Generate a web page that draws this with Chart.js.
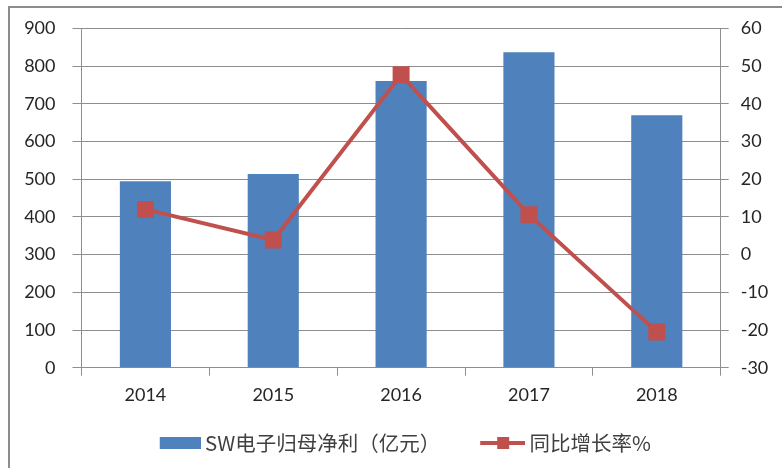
<!DOCTYPE html>
<html>
<head>
<meta charset="utf-8">
<script src="https://cdn.jsdelivr.net/npm/chart.js@4"></script>
<style>
  html, body { margin: 0; background: #fff; overflow: hidden; }
  #frame { position: absolute; left: 8px; top: 6px; width: 820px; height: 520px; border: 2px solid #8c8c8c; }
  #wrap { position: absolute; left: 0; top: 0; width: 782px; height: 468px; }
</style>
</head>
<body>
<div id="frame"></div>
<div id="wrap"><canvas id="chart"></canvas></div>
<script>
var years = ['2014', '2015', '2016', '2017', '2018'];
var profit = [495, 514, 761, 837, 670];
var growth = [12.0, 3.9, 47.7, 10.6, -20.5];
var profitName = 'SW电子归母净利（亿元）';
var growthName = '同比增长率%';

var blue = '#4f81bd';
var red = '#c0504d';
var axisGray = '#8e8e8e';
var tickFont = { family: 'Lato', size: 18 };

// legend icons, drawn on the right side of a wider canvas so they sit next to the text
function barIcon() {
    var c = document.createElement('canvas');
    c.width = 66; c.height = 12;
    var g = c.getContext('2d');
    g.fillStyle = blue;
    g.fillRect(25, 0, 41, 12);
    return c;
}
function lineIcon() {
    var c = document.createElement('canvas');
    c.width = 66; c.height = 14;
    var g = c.getContext('2d');
    g.fillStyle = red;
    g.fillRect(21, 5, 45, 4);
    g.fillRect(38, 1, 12, 12);
    return c;
}

// keep the legend short so it sits close under the x labels
const legendHeight = {
    id: 'legendHeight',
    beforeInit: function (chart) {
        var fit = chart.legend.fit;
        chart.legend.fit = function () {
            fit.call(this);
            this.height = 60.3;
        };
    }
};

var ctx = document.getElementById('chart').getContext('2d');

const chart = new Chart(ctx, {
    type: 'bar',
    data: {
        labels: years,
        datasets: [{
            type: 'line',
            label: growthName,
            data: growth,
            yAxisID: 'y1',
            borderColor: red,
            borderWidth: 4,
            backgroundColor: red,
            pointStyle: 'rect',
            pointRadius: 12,
            pointBorderWidth: 0,
            pointBackgroundColor: red,
            tension: 0
        }, {
            label: profitName,
            data: profit,
            yAxisID: 'y',
            backgroundColor: blue,
            barPercentage: 0.4,
            categoryPercentage: 1
        }]
    },
    options: {
        responsive: true,
        maintainAspectRatio: false,
        animation: false,
        layout: { padding: { left: 10, right: 0.5, top: 28.5, bottom: 0 } },
        plugins: {
            tooltip: { enabled: false },
            legend: {
                position: 'bottom',
                labels: {
                    usePointStyle: true,
                    pointStyleWidth: 54,
                    padding: 25,
                    color: '#404040',
                    font: { family: 'Noto Sans CJK SC', size: 20.5 },
                    generateLabels: function () {
                        return [
                            { text: profitName, pointStyle: barIcon(), fillStyle: blue, strokeStyle: blue, lineWidth: 0, datasetIndex: 1, fontColor: '#404040' },
                            { text: growthName, pointStyle: lineIcon(), fillStyle: red, strokeStyle: red, lineWidth: 0, datasetIndex: 0, fontColor: '#404040' }
                        ];
                    }
                }
            }
        },
        scales: {
            x: {
                grid: { drawOnChartArea: false, tickLength: 8, color: axisGray },
                border: { color: axisGray },
                ticks: { font: tickFont, color: '#262626', padding: 9 },
                afterFit: function (s) { s.height = 40; }
            },
            y: {
                position: 'left',
                min: 0,
                max: 900,
                ticks: { stepSize: 100, font: tickFont, color: '#262626', padding: 17 },
                grid: { color: axisGray, tickLength: 9 },
                border: { color: axisGray },
                afterFit: function (s) { s.width = 71.5; }
            },
            y1: {
                position: 'right',
                min: -30,
                max: 60,
                ticks: { stepSize: 10, font: tickFont, color: '#262626', padding: 12 },
                grid: { drawOnChartArea: false, tickLength: 8, color: axisGray },
                border: { color: axisGray },
                afterFit: function (s) { s.width = 60.8; }
            }
        }
    },
    plugins: [legendHeight]
});
</script>
</body>
</html>
